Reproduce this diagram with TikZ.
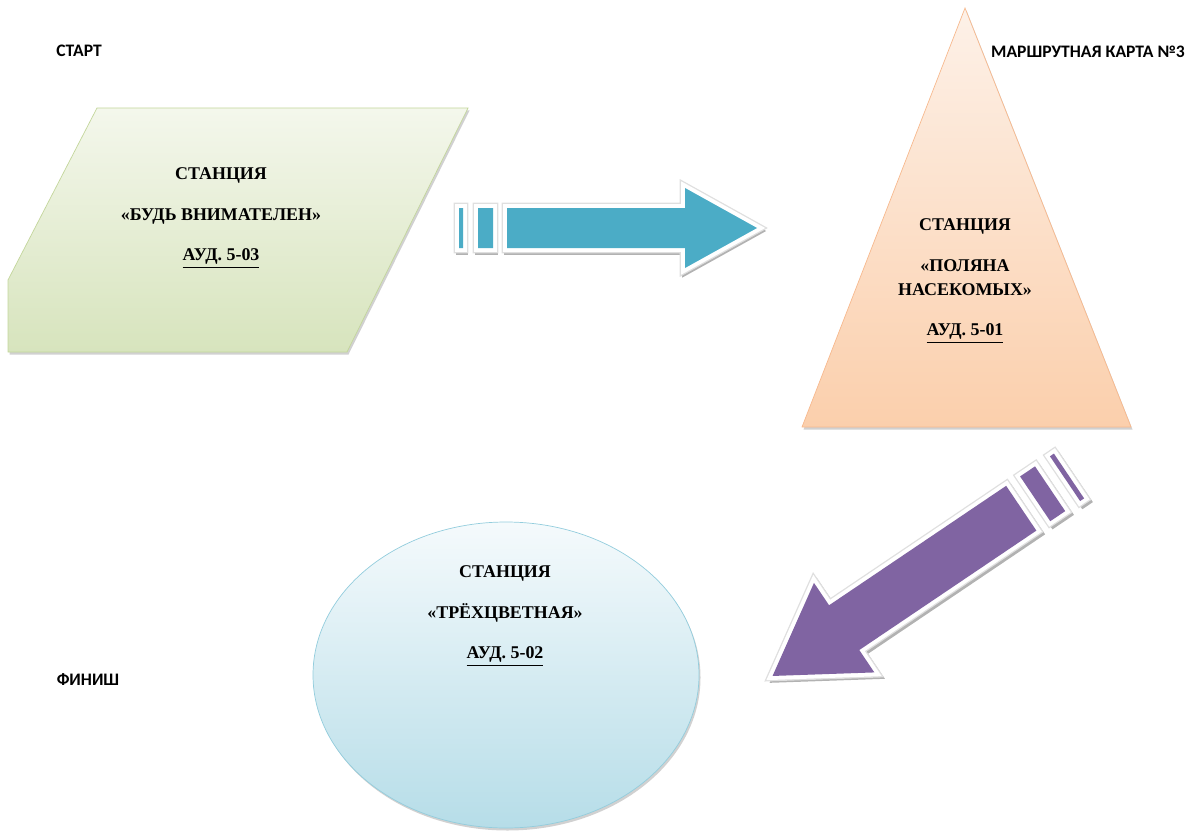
\documentclass[tikz,border=0pt]{standalone}
\usepackage{fontspec}
\setmainfont{Liberation Serif}
\newfontfamily\mapfont{Carlito}
\usetikzlibrary{positioning}
\definecolor{arrowaqua}{HTML}{4BACC6}
\definecolor{arrowviolet}{HTML}{8064A2}
\definecolor{olivetop}{HTML}{F4F7EC}
\definecolor{olivebottom}{HTML}{D7E4BD}
\definecolor{oliveline}{HTML}{C3D69B}
\definecolor{peachtop}{HTML}{FDF1E8}
\definecolor{peachbottom}{HTML}{FBCFAC}
\definecolor{peachline}{HTML}{F7B98E}
\definecolor{skytop}{HTML}{F5FAFC}
\definecolor{skybottom}{HTML}{B6DDE8}
\definecolor{skyline}{HTML}{93CDDD}

\begin{document}
\begin{tikzpicture}[
    x=0.02cm, y=-0.02cm,
    station/.style={font=\fontsize{10.2}{13.6}\selectfont\bfseries, align=center},
    maplabel/.style={font=\mapfont\fontsize{10}{12}\selectfont\bfseries},
    shapeshadow/.style={fill=black!18, shift={(1.5,2.5)}},
    arrowshadow/.style={shift={(1,3)}},
    stripeshape/.style={insert path={(0,-20) rectangle (4,20) (19,-20) rectangle (34,20)
        (48,-20) -- (226,-20) -- (226,-40) -- (298,0) -- (226,40) -- (226,20) -- (48,20) -- cycle}},
    pics/striparrow/.style={code={
        \filldraw[black!30, line width=4.5pt, arrowshadow, stripeshape];
        \draw[gray!25, line width=6pt, stripeshape];
        \draw[white, line width=4.5pt, stripeshape];
        \fill[#1, stripeshape];
    }}
]
\useasboundingbox (0,0) rectangle (1192,831);

% Start station: parallelogram
\fill[shapeshadow] (97,108) -- (468,108) -- (347,352) -- (8,352) -- (8,280) -- cycle;
\shadedraw[top color=olivetop, bottom color=olivebottom, draw=oliveline]
    (97,108) -- (468,108) -- (347,352) -- (8,352) -- (8,280) -- cycle;
\node[station] (att) at (221,218) {СТАНЦИЯ\\[9.5pt] «БУДЬ ВНИМАТЕЛЕН»\\[9.5pt] \underline{АУД. 5-03}};

% Second station: triangle
\fill[shapeshadow] (965,8) -- (1131,427) -- (802,427) -- cycle;
\shadedraw[top color=peachtop, bottom color=peachbottom, draw=peachline]
    (965,8) -- (1131,427) -- (802,427) -- cycle;
\node[station] (insects) at (965,281) {СТАНЦИЯ\\[9.5pt] «ПОЛЯНА\\ НАСЕКОМЫХ»\\[9.5pt] \underline{АУД. 5-01}};

% Finish station: ellipse
\fill[shapeshadow] (506,675) ellipse [x radius=193, y radius=153];
\shadedraw[top color=skytop, bottom color=skybottom, draw=skyline]
    (506,675) ellipse [x radius=193, y radius=153];
\node[station] (tricolor) at (505,616) {СТАНЦИЯ\\[9.5pt] «ТРЁХЦВЕТНАЯ»\\[9.5pt] \underline{АУД. 5-02}};

% Route arrows
\pic at (459,228) {striparrow=arrowaqua};
\begin{scope}[shift={(1069,476)}, rotate=214, xscale=1.2, yscale=1.35,
    arrowshadow/.style={shift={(-1,-3)}}]
  \pic[transform shape] {striparrow=arrowviolet};
\end{scope}

% Labels
\node[maplabel] (start) at (79,51) {СТАРТ};
\node[maplabel] (title) at (1088,52) {МАРШРУТНАЯ КАРТА №3};
\node[maplabel] (finish) at (88,680) {ФИНИШ};

\end{tikzpicture}
\end{document}
